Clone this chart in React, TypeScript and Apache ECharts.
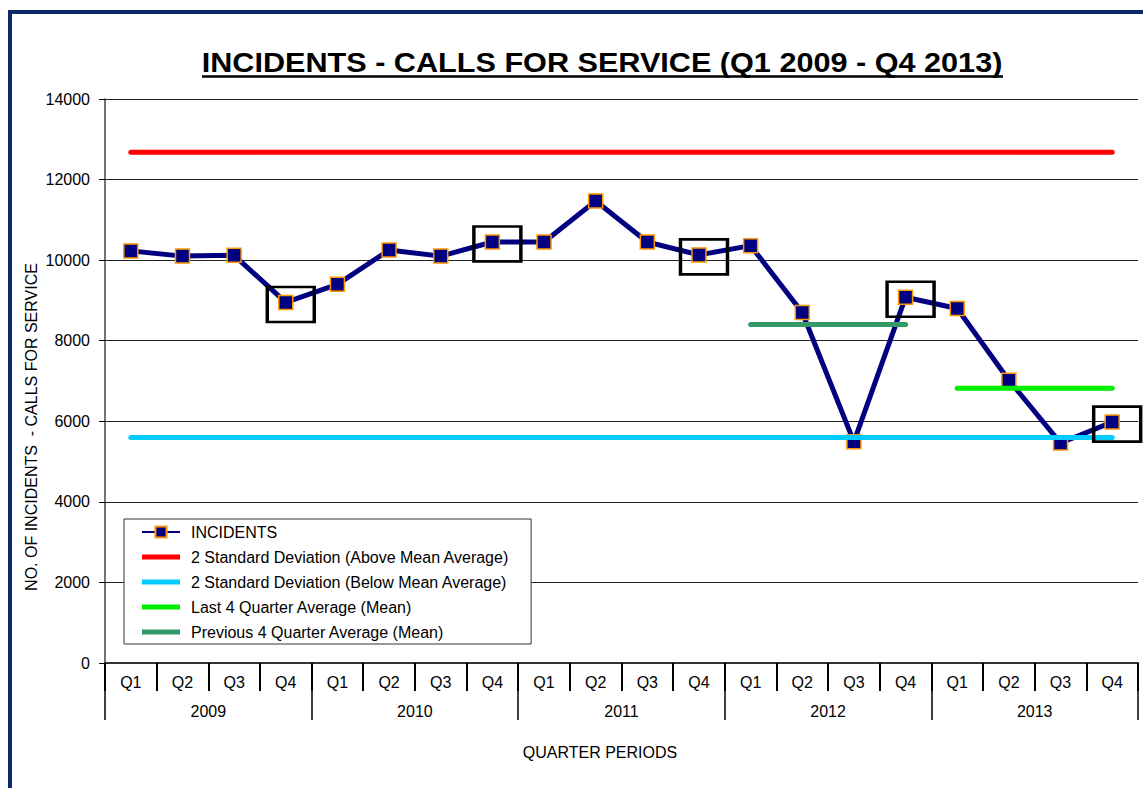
import React, { useEffect, useRef } from "react";
import * as echarts from "echarts";

const years = ["2009", "2010", "2011", "2012", "2013"];
const quarters = ["Q1", "Q2", "Q3", "Q4"];
const incidents = [
  10230, 10100, 10120, 8950,
  9400, 10250, 10100, 10450,
  10450, 11470, 10450, 10130,
  10360, 8700, 5490, 9080,
  8800, 7020, 5460, 5980,
];
// reference lines: [startIndex, endIndex] and value
const upperSDRange = [0, 19];
const upperSDValue = 12680;
const lowerSDRange = [0, 19];
const lowerSDValue = 5600;
const last4Range = [16, 19];
const last4Value = 6820;
const prev4Range = [12, 15];
const prev4Value = 8400;
const highlightedIndices = [3, 7, 11, 15, 19];
const yTicks = { min: 0, max: 14000, interval: 2000 };

const FONT = "'Liberation Sans', Arial, sans-serif";
const LINE_ICON = "path://M0,0L38,0L38,5L0,5Z";

export default function App() {
  const ref = useRef<HTMLDivElement>(null);
  useEffect(() => {
    if (!ref.current) return;
    const chart = echarts.init(ref.current, null, { renderer: "svg" });
    const categories: string[] = [];
    years.forEach((y) => quarters.forEach((q) => categories.push(y + " " + q)));
    const seg = (range: number[], v: number) => [
      [range[0], v],
      [range[1], v],
    ];
    const refLine = (name: string, color: string, range: number[], v: number) => ({
      name,
      type: "line",
      data: seg(range, v),
      symbol: "none",
      showSymbol: false,
      color,
      itemStyle: { color },
      lineStyle: { color, width: 5, cap: "round" },
      z: 3,
    });
    const names = [
      "INCIDENTS",
      "2 Standard Deviation (Above Mean Average)",
      "2 Standard Deviation (Below Mean Average)",
      "Last 4 Quarter Average (Mean)",
      "Previous 4 Quarter Average (Mean)",
    ];
    chart.setOption({
      animation: false,
      backgroundColor: "#fff",
      textStyle: { fontFamily: FONT },
      grid: { left: 105, right: 5, top: 99, bottom: 125 },
      legend: {
        orient: "vertical",
        left: 124,
        top: 519,
        padding: [5, 22, 4, 17],
        itemGap: 9,
        itemWidth: 38,
        itemHeight: 14,
        backgroundColor: "#fff",
        borderColor: "#333",
        borderWidth: 1,
        borderRadius: 0,
        textStyle: { fontSize: 16, color: "#000", fontFamily: FONT, padding: [0, 0, 0, 6] },
        data: names.map((n, i) => (i === 0 ? { name: n } : { name: n, icon: LINE_ICON })),
        z: 10,
      },
      xAxis: [
        {
          type: "category",
          data: categories,
          position: "bottom",
          boundaryGap: true,
          axisLine: { show: true, lineStyle: { color: "#333", width: 2 } },
          axisTick: { show: true, interval: 0, length: 28, lineStyle: { color: "#000", width: 2 } },
          axisLabel: {
            interval: 0,
            margin: 11,
            fontSize: 16,
            color: "#000",
            fontFamily: FONT,
            formatter: (v: string) => v.split(" ")[1],
          },
          splitLine: { show: false },
        },
        {
          type: "category",
          data: years,
          position: "bottom",
          offset: 0,
          boundaryGap: true,
          axisLine: { show: false },
          axisTick: { show: true, interval: 0, length: 57, lineStyle: { color: "#000", width: 1.5 } },
          axisLabel: { interval: 0, margin: 40, fontSize: 16, color: "#000", fontFamily: FONT },
          splitLine: { show: false },
        },
      ],
      yAxis: {
        type: "value",
        min: yTicks.min,
        max: yTicks.max,
        interval: yTicks.interval,
        axisLine: { show: true, lineStyle: { color: "#444", width: 1.5 } },
        axisTick: { show: true, length: 6, lineStyle: { color: "#000" } },
        axisLabel: {
          fontSize: 16,
          color: "#000",
          margin: 15,
          fontFamily: FONT,
          formatter: (v: number) => String(v),
        },
        splitLine: { show: true, lineStyle: { color: "#222", width: 1 } },
      },
      series: [
        {
          name: "INCIDENTS",
          type: "line",
          data: incidents,
          color: "#000080",
          symbol: "rect",
          symbolSize: 14,
          lineStyle: { color: "#000080", width: 5 },
          itemStyle: { color: "#000080", borderColor: "#ff9900", borderWidth: 1.5 },
          z: 2,
        },
        refLine(names[1], "#ff0000", upperSDRange, upperSDValue),
        refLine(names[2], "#00ccff", lowerSDRange, lowerSDValue),
        refLine(names[3], "#00ee00", last4Range, last4Value),
        refLine(names[4], "#339966", prev4Range, prev4Value),
        {
          name: "highlight",
          type: "scatter",
          data: highlightedIndices.map((i) => [i, incidents[i]]),
          symbol: "rect",
          symbolSize: [47, 35],
          symbolOffset: [5, 2],
          itemStyle: { color: "rgba(0,0,0,0)", borderColor: "#000", borderWidth: 3, opacity: 1 },
          silent: true,
          z: 4,
        },
      ],
      graphic: [
        {
          type: "rect",
          shape: { x: 10, y: 12, width: 1300, height: 1000 },
          style: { fill: "none", stroke: "#0c2868", lineWidth: 4 },
          silent: true,
          z: 100,
        },
        {
          type: "text",
          x: 602,
          y: 62,
          scaleX: 1.094,
          style: {
            text: "INCIDENTS - CALLS FOR SERVICE (Q1 2009 - Q4 2013)",
            font: "bold 28px " + FONT,
            fill: "#000",
            textAlign: "center",
            textVerticalAlign: "middle",
          },
          z: 100,
        },
        {
          type: "line",
          shape: { x1: 202, y1: 76.5, x2: 1003, y2: 76.5 },
          style: { stroke: "#000", lineWidth: 2.5 },
          z: 100,
        },
        {
          type: "text",
          x: 31,
          y: 427,
          rotation: Math.PI / 2,
          style: {
            text: "NO. OF INCIDENTS  - CALLS FOR SERVICE",
            font: "16px " + FONT,
            fill: "#000",
            textAlign: "center",
            textVerticalAlign: "middle",
          },
          z: 100,
        },
        {
          type: "text",
          x: 600,
          y: 752,
          style: {
            text: "QUARTER PERIODS",
            font: "16px " + FONT,
            fill: "#000",
            textAlign: "center",
            textVerticalAlign: "middle",
          },
          z: 100,
        },
      ],
    });
    return () => chart.dispose();
  }, []);
  return (
    <div
      ref={ref}
      style={{ position: "absolute", left: 0, top: 0, width: 1143, height: 788 }}
    />
  );
}
